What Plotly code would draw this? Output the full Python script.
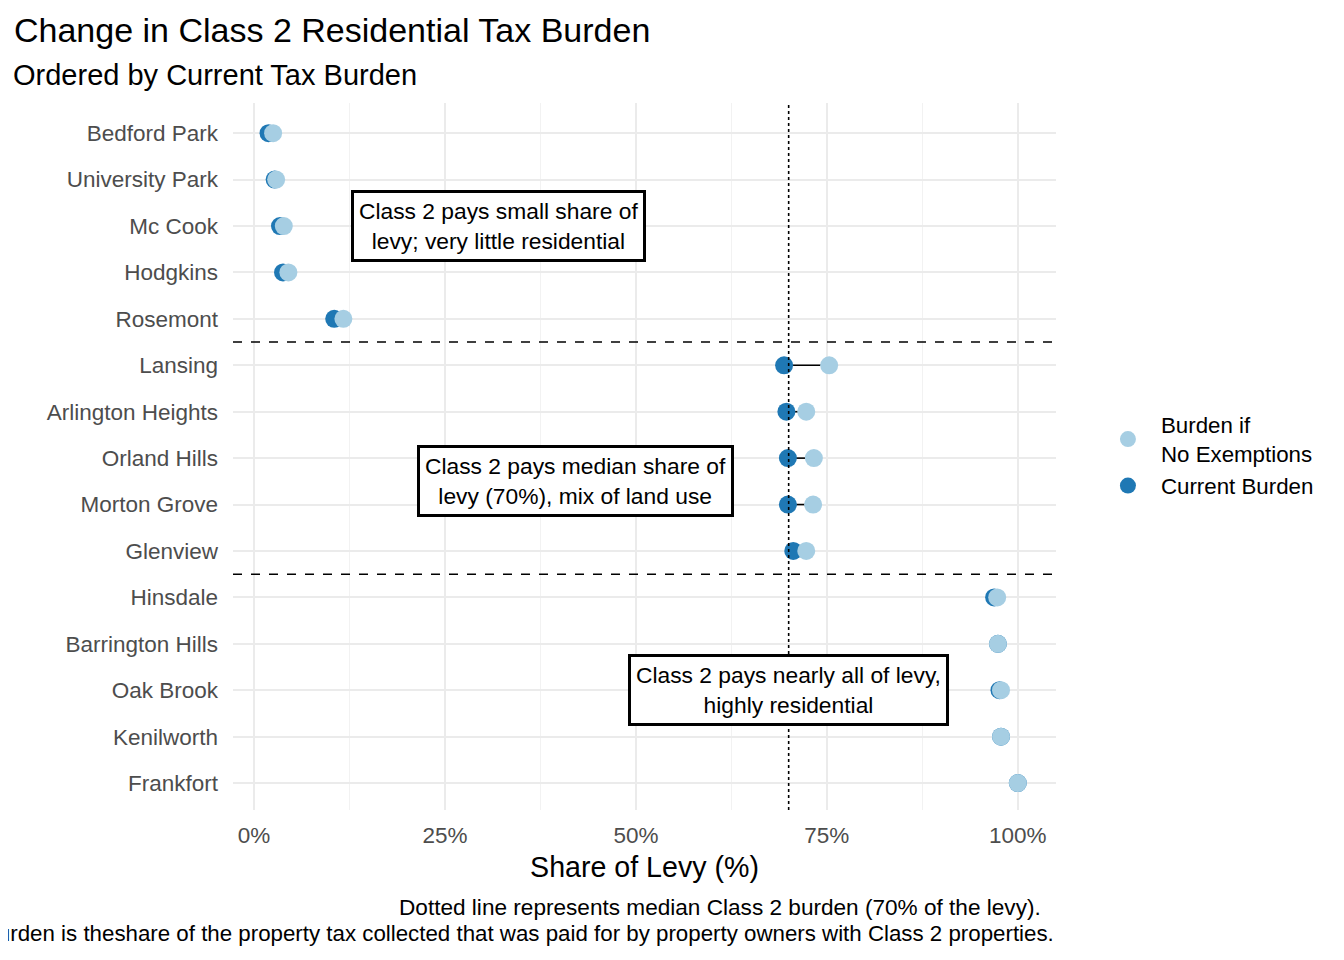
import plotly.graph_objects as go

# towns from top to bottom, ordered by current burden
towns = ['Bedford Park', 'University Park', 'Mc Cook', 'Hodgkins', 'Rosemont',
         'Lansing', 'Arlington Heights', 'Orland Hills', 'Morton Grove', 'Glenview',
         'Hinsdale', 'Barrington Hills', 'Oak Brook', 'Kenilworth', 'Frankfort']
current_burden = [1.9, 2.7, 3.4, 3.8, 10.5,
                  69.4, 69.7, 69.9, 69.9, 70.6,
                  96.9, 97.4, 97.6, 97.8, 100.0]
no_exemptions = [2.5, 2.9, 3.9, 4.5, 11.7,
                 75.3, 72.3, 73.3, 73.2, 72.3,
                 97.3, 97.4, 97.8, 97.8, 100.0]
x_ticks = [0, 25, 50, 75, 100]
median_burden = 70

notes = [
    ('Class 2 pays small share of<br>levy; very little residential', 32.0, 'Mc Cook'),
    ('Class 2 pays median share of<br>levy (70%), mix of land use', 42.1, None),
    ('Class 2 pays nearly all of levy,<br>highly residential', 70.0, 'Oak Brook'),
]

FONT = 'Liberation Sans, Arial, sans-serif'
LIGHT = '#A6CEE3'
DARK = '#1F78B4'

order = list(reversed(towns))

seg_x, seg_y = [], []
for t, c, n in zip(towns, current_burden, no_exemptions):
    seg_x += [c, n, None]
    seg_y += [t, t, None]

fig = go.Figure()
fig.add_trace(go.Scatter(x=seg_x, y=seg_y, mode='lines', line=dict(color='black', width=1.6),
                         showlegend=False, hoverinfo='skip'))
fig.add_trace(go.Scatter(x=current_burden, y=towns, mode='markers', name='Current Burden',
                         marker=dict(color=DARK, size=18), legendrank=2))
fig.add_trace(go.Scatter(x=no_exemptions, y=towns, mode='markers', name='Burden if<br>No Exemptions',
                         marker=dict(color=LIGHT, size=18), legendrank=1))

# reference lines
fig.add_shape(type='line', xref='x', yref='paper', x0=median_burden, x1=median_burden, y0=0, y1=1,
              line=dict(color='black', width=1.6, dash='dot'))
for split in [4.5, 9.5]:
    fig.add_shape(type='line', xref='paper', yref='y', x0=0, x1=1, y0=split, y1=split,
                  line=dict(color='black', width=1.6, dash='dash'))

for text, xpos, town in notes:
    ypos = order.index(town) if town else 6.5
    fig.add_annotation(x=xpos, y=ypos, text=text, showarrow=False, align='center',
                       font=dict(family=FONT, size=22.8, color='black'),
                       bgcolor='white', bordercolor='black', borderwidth=3, borderpad=5)

fig.add_annotation(xref='paper', yref='paper', x=-0.2697, y=1.0396, xanchor='left', yanchor='middle',
                   text='Ordered by Current Tax Burden', showarrow=False,
                   font=dict(family=FONT, size=29, color='black'))
fig.add_annotation(xref='paper', yref='paper', x=0.9842, y=-0.1386, xanchor='right', yanchor='middle',
                   text='Dotted line represents median Class 2 burden (70% of the levy).', showarrow=False,
                   font=dict(family=FONT, size=22.6, color='black'))
fig.add_annotation(xref='paper', yref='paper', x=1.0, y=-0.174, xanchor='right', yanchor='middle',
                   text='Burden is theshare of the property tax collected that was paid for '
                        'by property owners with Class 2 properties.', showarrow=False,
                   font=dict(family=FONT, size=22.3, color='black'))

fig.update_layout(
    width=1336, height=952,
    margin=dict(l=225, r=288, t=95, b=150),
    plot_bgcolor='white', paper_bgcolor='white',
    font=dict(family=FONT, color='black'),
    title=dict(text='Change in Class 2 Residential Tax Burden', font=dict(family=FONT, size=34, color='black'),
               x=6 / 1336, xref='container', xanchor='left', y=1 - 22 / 952, yref='container', yanchor='middle'),
    legend=dict(x=1.0473, xanchor='left', y=0.502, yanchor='middle', font=dict(family=FONT, size=22.3),
                bgcolor='rgba(0,0,0,0)', itemwidth=56),
    showlegend=True,
)
fig.update_xaxes(range=[-2.75, 105.0], tickvals=x_ticks, ticktext=[f'{v}%' for v in x_ticks],
                 showgrid=True, gridcolor='#EBEBEB', gridwidth=2, zeroline=False, showline=False, ticks='',
                 ticklabelstandoff=9, tickfont=dict(family=FONT, size=22.5, color='#4D4D4D'),
                 minor=dict(tickvals=[12.5, 37.5, 62.5, 87.5], showgrid=True, gridcolor='#F2F2F2', gridwidth=1),
                 title=dict(text='Share of Levy (%)', font=dict(family=FONT, size=28.6, color='black'), standoff=10))
fig.update_yaxes(type='category', categoryorder='array', categoryarray=order, range=[-0.58, 14.65],
                 showgrid=True, gridcolor='#EBEBEB', gridwidth=2, zeroline=False, showline=False, ticks='',
                 ticklabelstandoff=14, tickfont=dict(family=FONT, size=22.5, color='#4D4D4D'))

fig.write_html('out.html')
